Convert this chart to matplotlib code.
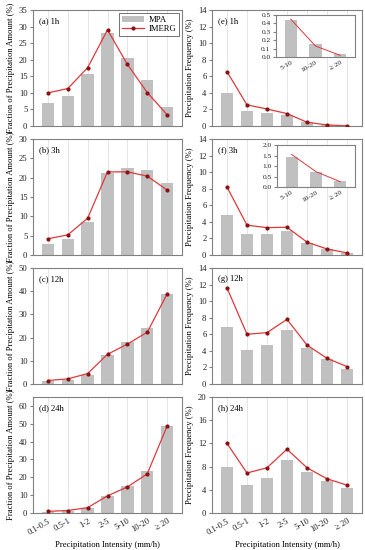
import matplotlib.pyplot as plt
import numpy as np

plt.rcParams['font.family'] = ['Liberation Serif', 'DejaVu Serif']

cats = ['0.1-0.5', '0.5-1', '1-2', '2-5', '5-10', '10-20', '≥ 20']
inset_cats = ['5-10', '10-20', '≥ 20']

# fraction of precipitation amount (%)
amt_mpa_1h = [6.9, 9.1, 15.6, 28.2, 20.6, 13.9, 5.7]
amt_imerg_1h = [10.0, 11.3, 17.6, 29.0, 18.6, 10.1, 3.4]
amt_mpa_3h = [2.9, 4.2, 8.5, 21.1, 22.6, 22.0, 18.6]
amt_imerg_3h = [4.2, 5.2, 9.5, 21.5, 21.5, 20.4, 16.8]
amt_mpa_12h = [1.2, 1.8, 4.0, 12.5, 18.0, 24.3, 38.6]
amt_imerg_12h = [1.5, 2.2, 4.5, 12.8, 17.2, 22.3, 38.8]
amt_mpa_24h = [0.7, 1.0, 2.7, 9.3, 15.0, 23.4, 48.5]
amt_imerg_24h = [0.9, 1.4, 3.0, 9.6, 14.6, 21.9, 48.7]

# precipitation frequency (%)
frq_mpa_1h = [3.95, 1.85, 1.6, 1.35, 0.45, 0.15, 0.03]
frq_imerg_1h = [6.55, 2.55, 2.05, 1.5, 0.45, 0.13, 0.02]
frq_mpa_3h = [4.8, 2.5, 2.55, 2.85, 1.43, 0.70, 0.27]
frq_imerg_3h = [8.2, 3.6, 3.3, 3.35, 1.55, 0.73, 0.25]
frq_mpa_12h = [6.9, 4.1, 4.7, 6.5, 4.35, 3.0, 1.85]
frq_imerg_12h = [11.6, 6.0, 6.2, 7.8, 4.7, 3.1, 2.1]
frq_mpa_24h = [7.9, 4.9, 6.0, 9.2, 7.0, 5.5, 4.3]
frq_imerg_24h = [12.0, 6.9, 7.8, 11.0, 7.8, 5.9, 4.8]

inset_mpa_1h = [0.44, 0.15, 0.03]
inset_imerg_1h = [0.45, 0.13, 0.02]
inset_mpa_3h = [1.43, 0.70, 0.27]
inset_imerg_3h = [1.55, 0.73, 0.25]

BAR = '#c0c0c0'
LINE = '#e0383c'
MARK = '#8b1010'
SPINE = '#808080'
FS = 6.2

W, H = 365, 550


def rect(x0, y0, x1, y1):
    return [x0 / W, 1 - y1 / H, (x1 - x0) / W, (y1 - y0) / H]


def style(ax, fs=FS):
    for s in ax.spines.values():
        s.set_color(SPINE)
        s.set_linewidth(0.8)
    ax.tick_params(axis='both', labelsize=fs, length=0, pad=2, colors='#222222')
    ax.tick_params(axis='y', length=2, direction='out', color=SPINE)
    ax.set_axisbelow(True)
    ax.grid(axis='x', color='#e6e6e6', linewidth=0.7)


def panel(ax, mpa, imerg, label, ymax, step, ylabel, bottom):
    x = np.arange(len(cats))
    ax.bar(x, mpa, width=0.62, color=BAR, label='MPA', zorder=2)
    ax.plot(x, imerg, color=LINE, linewidth=0.9, marker='o', markersize=2.0,
            markerfacecolor=MARK, markeredgecolor=MARK, label='IMERG', zorder=3)
    ax.set_xlim(-0.75, len(cats) - 0.25)
    ax.set_ylim(0, ymax)
    ax.set_yticks(np.arange(0, ymax + 0.01, step))
    ax.set_xticks(x)
    style(ax)
    ax.text(0.04, 0.94, label, transform=ax.transAxes, fontsize=FS,
            va='top', ha='left')
    ax.set_ylabel(ylabel, fontsize=FS, labelpad=3)
    if bottom:
        ax.set_xticklabels(cats, rotation=30, ha='right', rotation_mode='anchor')
        ax.tick_params(axis='x', pad=3)
        ax.set_xlabel('Precipitation Intensity (mm/h)', fontsize=FS, labelpad=3)
    else:
        ax.set_xticklabels([])


def inset(fig, r, mpa, imerg, ymax, step):
    ax = fig.add_axes(r)
    x = np.arange(len(inset_cats))
    ax.bar(x, mpa, width=0.5, color=BAR, zorder=2)
    ax.plot(x, imerg, color=LINE, linewidth=0.7, zorder=3)
    ax.set_xlim(-0.6, len(inset_cats) - 0.4)
    ax.set_ylim(0, ymax)
    ax.set_yticks(np.arange(0, ymax + 0.001, step))
    ax.set_yticklabels(['%.1f' % v for v in np.arange(0, ymax + 0.001, step)])
    ax.set_xticks(x)
    ax.set_xticklabels(inset_cats, rotation=30, ha='right', rotation_mode='anchor')
    style(ax, fs=5.3)
    ax.grid(False)
    return ax


fig = plt.figure(figsize=(W / 100, H / 100), dpi=100)

rows = [(10, 126), (139, 255), (268, 384), (397, 513)]
lx = (33, 182)
rx = (212, 362)

amt = [(amt_mpa_1h, amt_imerg_1h, '(a) 1h', 35, 5),
       (amt_mpa_3h, amt_imerg_3h, '(b) 3h', 30, 5),
       (amt_mpa_12h, amt_imerg_12h, '(c) 12h', 50, 10),
       (amt_mpa_24h, amt_imerg_24h, '(d) 24h', 65, 10)]
frq = [(frq_mpa_1h, frq_imerg_1h, '(e) 1h', 14, 2),
       (frq_mpa_3h, frq_imerg_3h, '(f) 3h', 14, 2),
       (frq_mpa_12h, frq_imerg_12h, '(g) 12h', 14, 2),
       (frq_mpa_24h, frq_imerg_24h, '(h) 24h', 20, 4)]

for i, (y0, y1) in enumerate(rows):
    bottom = i == 3
    ax = fig.add_axes(rect(lx[0], y0, lx[1], y1))
    m, im, lab, ymax, step = amt[i]
    panel(ax, m, im, lab, ymax, step, 'Fraction of Precipitation Amount (%)', bottom)
    if i == 0:
        h, l = ax.get_legend_handles_labels()
        leg = ax.legend(h[::-1], l[::-1], loc='upper right', fontsize=FS,
                        frameon=True, fancybox=False, borderpad=0.3,
                        handlelength=2.6, handletextpad=0.5,
                        labelspacing=0.15, borderaxespad=0.4)
        leg.get_frame().set_edgecolor('#333333')
        leg.get_frame().set_linewidth(0.6)
    ax = fig.add_axes(rect(rx[0], y0, rx[1], y1))
    m, im, lab, ymax, step = frq[i]
    panel(ax, m, im, lab, ymax, step, 'Precipitation Frequency (%)', bottom)

inset(fig, rect(276, 15, 355, 57), inset_mpa_1h, inset_imerg_1h, 0.5, 0.1)
inset(fig, rect(277, 145, 355, 187), inset_mpa_3h, inset_imerg_3h, 2.0, 0.5)

fig.savefig('out.png', dpi=100)
